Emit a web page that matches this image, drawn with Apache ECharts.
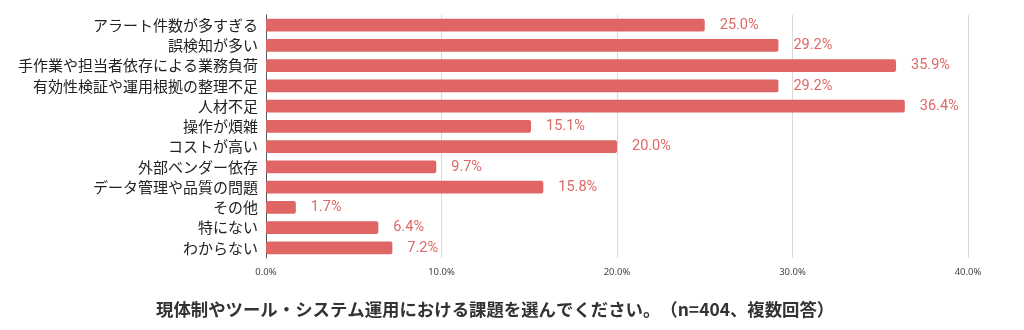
<!DOCTYPE html>
<html><head><meta charset="utf-8">
<script src="https://cdn.jsdelivr.net/npm/echarts@6/dist/echarts.min.js"></script>
<style>html,body{margin:0;padding:0;background:#fff}#c{width:1024px;height:330px}</style>
</head><body><div id="c"></div>
<script>
const categories = ["アラート件数が多すぎる","誤検知が多い","手作業や担当者依存による業務負荷","有効性検証や運用根拠の整理不足","人材不足","操作が煩雑","コストが高い","外部ベンダー依存","データ管理や品質の問題","その他","特にない","わからない"];
const values = [25.0,29.2,35.9,29.2,36.4,15.1,20.0,9.7,15.8,1.7,6.4,7.2];
const tickLabels = ["0.0%","10.0%","20.0%","30.0%","40.0%"];
const titleMain = "現体制やツール・システム運用における課題を選んでください。";
const titleNote = "（n=404、複数回答）";

const titleStyle = {fontFamily:'Noto Sans CJK JP',fontSize:17.4,fontWeight:'bold',color:'#333333'};
const chart = echarts.init(document.getElementById('c'), null, {renderer:'canvas'});
chart.setOption({
  animation:false,
  backgroundColor:'#ffffff',
  title:{text:'{a|'+titleMain+'}{b|'+titleNote+'}',left:151,top:296,
    textStyle:Object.assign({rich:{a:titleStyle,b:titleStyle}},titleStyle)},
  grid:{left:266,right:56,top:15,bottom:72,containLabel:false},
  xAxis:{type:'value',min:0,max:40,interval:10,
    axisLine:{show:false},axisTick:{show:false},
    splitLine:{show:true,lineStyle:{color:'#d9d9d9',width:1}},
    axisLabel:{margin:9,fontSize:9.5,color:'#444444',fontFamily:'Noto Sans',formatter:function(v){return tickLabels[Math.round(v/10)];}}},
  yAxis:{type:'category',data:categories,inverse:true,
    axisLine:{show:true,onZero:false,lineStyle:{color:'#555555',width:1}},axisTick:{show:false},
    axisLabel:{margin:8,fontSize:15,color:'#222222',fontFamily:'Noto Sans CJK JP'}},
  series:[{type:'bar',data:values,barWidth:'63%',
    itemStyle:{color:'#e06666',borderRadius:2},
    label:{show:true,position:'right',distance:15,fontSize:14.5,color:'#e06666',fontFamily:'Roboto',formatter:function(p){return p.value.toFixed(1)+'%';}}}]
});
</script></body></html>
